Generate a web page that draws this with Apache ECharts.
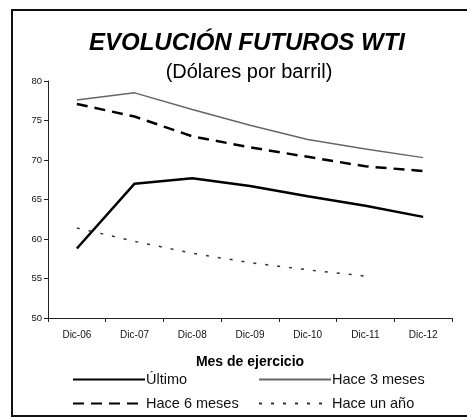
<!DOCTYPE html>
<html><head><meta charset="utf-8">
<script src="https://cdn.jsdelivr.net/npm/echarts@6/dist/echarts.min.js"></script>
<style>html,body{margin:0;padding:0;background:#fff}#c{width:467px;height:417px}</style>
</head><body><div id="c"></div>
<script>
const categories = ['Dic-06','Dic-07','Dic-08','Dic-09','Dic-10','Dic-11','Dic-12'];
const ultimo = [58.8, 67.0, 67.7, 66.7, 65.4, 64.2, 62.8];
const hace3 = [77.6, 78.5, 76.4, 74.4, 72.6, 71.4, 70.3];
const hace6 = [77.1, 75.5, 73.0, 71.6, 70.4, 69.2, 68.6];
const haceAno = [61.4, 59.7, 58.2, 57.0, 56.1, 55.3, null];
const yTicks = [50, 55, 60, 65, 70, 75, 80];

const font = 'Liberation Sans, Arial, sans-serif';
const chart = echarts.init(document.getElementById('c'));
const legendBase = {
  orient: 'horizontal', itemWidth: 72, itemHeight: 10, itemGap: 0,
  itemStyle: {opacity: 0},
  textStyle: {fontFamily: font, fontSize: 14.5, color: '#111', padding: [0,0,0,-4]},
  padding: 0
};
chart.setOption({
  animation: false,
  title: [
    {text: 'EVOLUCIÓN FUTUROS WTI', left: 242, top: 26, textAlign: 'center',
     textStyle: {fontFamily: font, fontSize: 24, fontWeight: 'bold', fontStyle: 'italic', color: '#000'}},
    {text: '(Dólares por barril)', left: 244, top: 57, textAlign: 'center',
     textStyle: {fontFamily: font, fontSize: 20, fontWeight: 'normal', color: '#000'}}
  ],
  graphic: [{type: 'polyline', shape: {points: [[470, 10], [12, 10], [12, 416], [470, 416]]},
    style: {stroke: '#111', lineWidth: 2, fill: null}}],
  grid: {left: 48, right: 15, top: 81, bottom: 99},
  xAxis: {
    type: 'category', data: categories, boundaryGap: true,
    name: 'Mes de ejercicio', nameLocation: 'middle', nameGap: 37,
    nameTextStyle: {fontFamily: font, fontSize: 14, fontWeight: 'bold', color: '#000'},
    axisLine: {lineStyle: {color: '#222', width: 1}},
    axisTick: {show: true, alignWithLabel: false, length: 4, lineStyle: {color: '#222'}},
    axisLabel: {fontFamily: font, fontSize: 10, color: '#111', margin: 12},
    splitLine: {show: false}
  },
  yAxis: {
    type: 'value', min: yTicks[0], max: yTicks[yTicks.length - 1], interval: 5,
    axisLine: {show: true, lineStyle: {color: '#222', width: 1}},
    axisTick: {show: true, length: 4, lineStyle: {color: '#222'}},
    axisLabel: {fontFamily: font, fontSize: 9.5, color: '#111', margin: 6},
    splitLine: {show: false}
  },
  legend: [
    Object.assign({}, legendBase, {left: 72, top: 372, data: ['Último']}),
    Object.assign({}, legendBase, {left: 258, top: 372, data: ['Hace 3 meses']}),
    Object.assign({}, legendBase, {left: 72, top: 396, data: ['Hace 6 meses']}),
    Object.assign({}, legendBase, {left: 258, top: 396, data: ['Hace un año']})
  ],
  series: [
    {name: 'Último', type: 'line', data: ultimo, symbol: 'none',
     lineStyle: {color: '#000', width: 2.5}, itemStyle: {color: '#000'}},
    {name: 'Hace 3 meses', type: 'line', data: hace3, symbol: 'none',
     lineStyle: {color: '#666', width: 1.5}, itemStyle: {color: '#666'}},
    {name: 'Hace 6 meses', type: 'line', data: hace6, symbol: 'none',
     lineStyle: {color: '#000', width: 2.5, type: [11, 7]}, itemStyle: {color: '#000'}},
    {name: 'Hace un año', type: 'line', data: haceAno, symbol: 'none',
     lineStyle: {color: '#333', width: 1.5, type: [3, 9]}, itemStyle: {color: '#333'}}
  ]
});
</script></body></html>
